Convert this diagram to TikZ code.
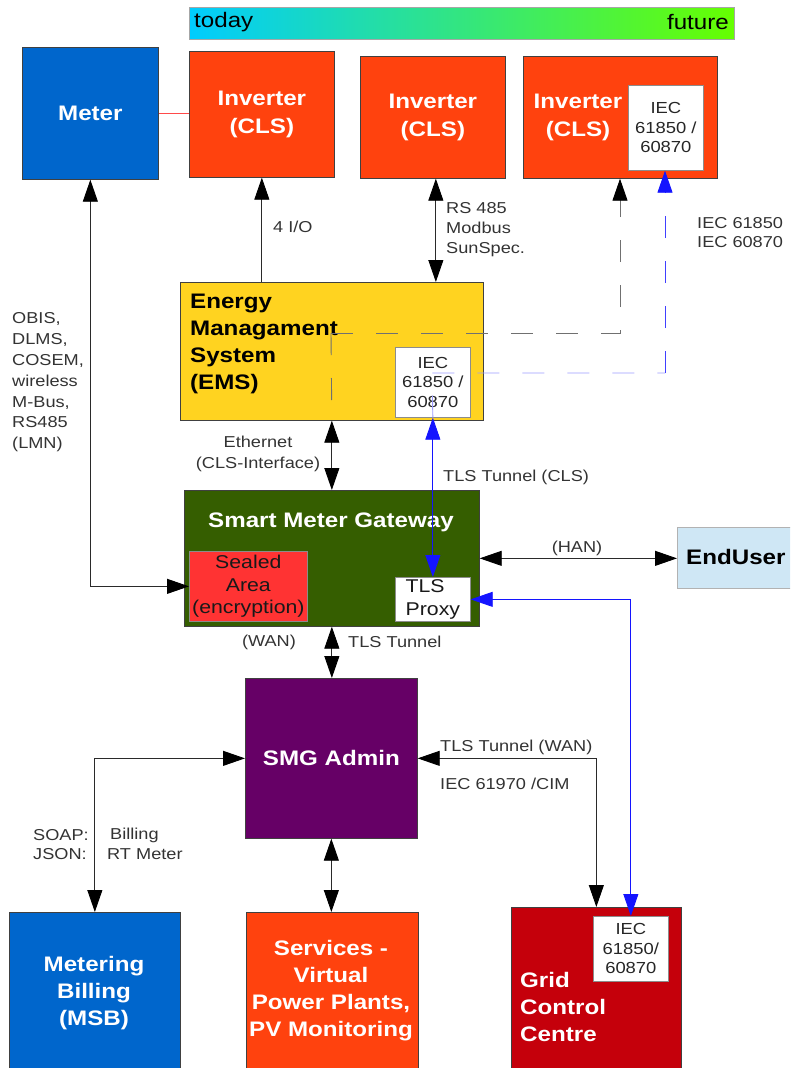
\documentclass[tikz,border=0pt]{standalone}
\usepackage{fontspec}
\setmainfont[FakeStretch=1.15]{Liberation Sans}
\usetikzlibrary{arrows.meta}
\definecolor{cOrange}{HTML}{FF420E}
\definecolor{cBlue}{HTML}{0066CC}
\definecolor{cYellow}{HTML}{FFD320}
\definecolor{cGreen}{HTML}{355E00}
\definecolor{cSeal}{HTML}{FF3333}
\definecolor{cPurple}{HTML}{660066}
\definecolor{cGrid}{HTML}{C5000B}
\definecolor{cUser}{HTML}{CFE7F5}
\definecolor{cLine}{HTML}{2A2A2A}
\definecolor{cBlueLine}{HTML}{1414FF}
\definecolor{cDash}{HTML}{707070}
\definecolor{cLightBlue}{HTML}{9C9CFF}
\definecolor{cMidBlue}{HTML}{4040FF}
\definecolor{cPink}{HTML}{FF4A4A}
\definecolor{gLeft}{HTML}{00CCFF}
\definecolor{gRight}{HTML}{66FF00}
\definecolor{cText}{HTML}{333333}
\tikzset{
  blk/.style={draw=black!75, line width=0.7pt, inner sep=0pt, anchor=north west},
  ttl/.style={text=white, font=\fontsize{21}{28}\selectfont\bfseries, align=center},
  btxt/.style={text=white, font=\fontsize{21}{27}\selectfont\bfseries, inner sep=0pt},
  lbl/.style={font=\fontsize{15.8}{20.5}\selectfont, text=cText, inner sep=0pt},
  iec/.style={draw=black!45, fill=white, line width=0.7pt, inner sep=0pt, anchor=north west,
    font=\fontsize{16}{19.5}\selectfont, align=center, text=black!85},
  con/.style={draw=cLine, line width=0.9pt},
  blu/.style={draw=cBlueLine, line width=0.9pt},
  tipK/.tip={Triangle[length=22pt,width=15pt,color=black]},
  tipB/.tip={Triangle[length=22pt,width=15pt,color=cBlueLine]},
  oneway/.style={-{tipK}},
  twoway/.style={{tipK}-{tipK}},
  bluetwo/.style={{tipB}-{tipB}},
  blueone/.style={-{tipB}},
  dsh/.style={draw=cDash, line width=0.9pt, dash pattern=on 22pt off 23pt},
}
\begin{document}
\begin{tikzpicture}[x=1pt,y=-1pt]
\useasboundingbox (0,0) rectangle (790,1068);
\clip (0,0) rectangle (790,1068);

% gradient bar
\node[draw=black!35, line width=0.7pt, left color=gLeft, right color=gRight, minimum width=545pt, minimum height=32pt, anchor=north west, inner sep=0pt] (bar) at (189,7) {};
\node[font=\fontsize{21}{24}\selectfont, anchor=west, inner sep=0pt] (today) at (194,22) {today};
\node[font=\fontsize{21}{24}\selectfont, anchor=east, inner sep=0pt] (future) at (729,22) {future};

% top row
\node[blk, fill=cBlue, minimum width=136pt, minimum height=132pt, ttl] (meter) at (22,47) {Meter};
\node[blk, fill=cOrange, minimum width=145pt, minimum height=126pt, ttl] (inv1) at (189,51) {Inverter\\(CLS)};
\node[blk, fill=cOrange, minimum width=145pt, minimum height=122pt, ttl] (inv2) at (360,56) {Inverter\\(CLS)};
\node[blk, fill=cOrange, minimum width=194pt, minimum height=122pt] (inv3) at (523,56) {};
\node[ttl, inner sep=0pt] (inv3t) at (578,117) {Inverter\\(CLS)};
\node[iec, minimum width=75pt, minimum height=85pt] (iec3) at (628,85) {IEC\\61850 /\\60870};

% EMS
\node[blk, fill=cYellow, minimum width=303pt, minimum height=138pt] (ems) at (180,282) {};
\node[anchor=west, align=left, inner sep=0pt, font=\fontsize{21}{26.7}\selectfont\bfseries] (emst) at (190,344) {Energy\\Managament\\System\\(EMS)};
\node[iec, minimum width=75pt, minimum height=70pt] (iecems) at (395,347) {IEC\\61850 /\\60870};

% SMG
\node[blk, fill=cGreen, minimum width=295pt, minimum height=136pt] (smg) at (184,490) {};
\node[ttl, inner sep=0pt] (smgt) at (331,522) {Smart Meter Gateway};
\node[blk, draw=black!45, fill=cSeal, minimum width=118pt, minimum height=70pt, align=center, font=\fontsize{18.5}{22.5}\selectfont, text=black!90] (sealed) at (189,551) {Sealed\\Area\\(encryption)};
\node[blk, draw=black!45, fill=white, minimum width=75pt, minimum height=44pt, align=left, font=\fontsize{18.5}{23}\selectfont, text=black!90] (proxy) at (395,577) {TLS\\Proxy};

% EndUser
\node[blk, draw=black!30, fill=cUser, minimum width=140pt, minimum height=61pt] (user) at (677,527) {};
\node[anchor=west, inner sep=0pt, font=\fontsize{21}{26}\selectfont\bfseries] (usert) at (686,557) {EndUser};

% SMG Admin
\node[blk, fill=cPurple, minimum width=172pt, minimum height=160pt, ttl] (admin) at (245,678) {SMG Admin};

% bottom row
\node[blk, fill=cBlue, minimum width=171pt, minimum height=170pt] (msb) at (9,912) {};
\node[btxt, align=center] (msbt) at (94,993) {Metering\\Billing\\(MSB)};
\node[blk, fill=cOrange, minimum width=172pt, minimum height=170pt] (svc) at (246,912) {};
\node[btxt, align=center] (svct) at (331,991) {Services -\\Virtual\\Power Plants,\\PV Monitoring};
\node[blk, fill=cGrid, minimum width=170pt, minimum height=175pt] (grid) at (511,907) {};
\node[btxt, align=left, anchor=west] (gridt) at (520,1007) {Grid\\Control\\Centre};
\node[iec, minimum width=75pt, minimum height=65pt] (iecgrid) at (593,916) {IEC\\61850/\\60870};

% connectors
\draw[draw=cPink, line width=0.8pt] (meter.east) -- (meter.east -| inv1.west);
\draw[con, twoway] (meter.south) |- (sealed.west);
\draw[con, oneway] (ems.north -| inv1.south) -- (inv1.south);
\draw[con, twoway] ([xshift=3pt]ems.north -| inv2.south) -- ([xshift=3pt]inv2.south);

\coordinate (d1) at (331,333);
\coordinate (d2) at (620,333);
\draw[dsh, oneway] (d1) -- (d2) -- (d2 |- inv3.south);
\draw[dsh] (d1) -- (ems.south -| smg.north);
\draw[con, twoway] (ems.south -| smg.north) -- (smg.north);

\coordinate (b1) at (432,373);
\coordinate (b2) at (665,373);
\draw[draw=cLightBlue, line width=0.9pt, dash pattern=on 22pt off 23pt] (iecems.south) -- (b1) -- (b2);
\draw[draw=cMidBlue, line width=0.9pt, dash pattern=on 22pt off 23pt, blueone] (b2) -- (b2 |- iec3.south);

\draw[blu, bluetwo] (iecems.south) -- (proxy.north);
\draw[blu, bluetwo] (proxy.east) -| (iecgrid.north);

\draw[con, twoway] (smg.east) -- (smg.east -| user.west);
\draw[con, twoway] (smg.south) -- (smg.south |- admin.north);
\draw[con, twoway] (admin.west) -| (msb.north);
\draw[con, twoway] (admin.east) -| (grid.north);
\draw[con, twoway] (admin.south) -- (admin.south |- svc.north);

% labels
\node[lbl, anchor=west] (l4io) at (273,227) {4 I/O};
\node[lbl, anchor=west, align=left, font=\fontsize{15.8}{19.7}\selectfont] (lrs) at (446,229.5) {RS 485\\Modbus\\SunSpec.};
\node[lbl, anchor=west, align=left, font=\fontsize{15.8}{19}\selectfont] (liec) at (697,232.5) {IEC 61850\\IEC 60870};
\node[lbl, anchor=west, align=left, font=\fontsize{15.8}{20.8}\selectfont] (lobis) at (12,382.5) {OBIS,\\DLMS,\\COSEM,\\wireless\\M-Bus,\\RS485\\(LMN)};
\node[lbl, align=center, font=\fontsize{15.8}{20.5}\selectfont] (leth) at (258,454) {Ethernet\\(CLS-Interface)};
\node[lbl, anchor=west] (lcls) at (443,477) {TLS Tunnel (CLS)};
\node[lbl] (lhan) at (577,548) {(HAN)};
\node[lbl] (lwan) at (269,642) {(WAN)};
\node[lbl, anchor=west] (ltls) at (348,642) {TLS Tunnel};
\node[lbl, anchor=west] (ltlsw) at (440,747) {TLS Tunnel (WAN)};
\node[lbl, anchor=west] (lcim) at (440,784) {IEC 61970 /CIM};
\node[lbl, anchor=west] (lsoap) at (33,835) {SOAP:};
\node[lbl, anchor=west] (lbill) at (110,835) {Billing};
\node[lbl, anchor=west] (ljson) at (33,854) {JSON:};
\node[lbl, anchor=west] (lrt) at (107,854) {RT Meter};
\end{tikzpicture}
\end{document}
